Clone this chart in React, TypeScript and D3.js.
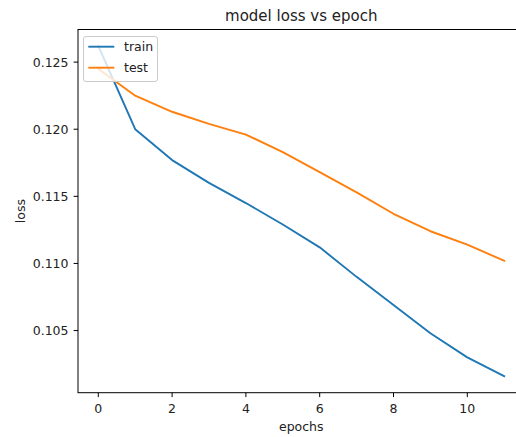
import { useEffect, useRef } from "react";
import * as d3 from "d3";

// data
const epochs = [0, 1, 2, 3, 4, 5, 6, 7, 8, 9, 10, 11];
const trainLoss = [0.1262, 0.12, 0.1177, 0.116, 0.1145, 0.1129, 0.1112, 0.109, 0.1069, 0.1048, 0.103, 0.1016];
const testLoss = [0.1245, 0.1225, 0.1213, 0.1204, 0.1196, 0.1183, 0.1168, 0.1153, 0.1137, 0.1124, 0.1114, 0.1102];
const xTicks = [0, 2, 4, 6, 8, 10];
const yTicks = [0.105, 0.11, 0.115, 0.12, 0.125];
const seriesNames = ["train", "test"];
const seriesColors = ["#1f77b4", "#ff7f0e"];

const W = 516;
const H = 437;
const FONT = "DejaVu Sans, sans-serif";

function App() {
	const ref = useRef<SVGSVGElement | null>(null);

	useEffect(() => {
		const svg = d3.select(ref.current);
		svg.selectAll("*").remove();

		// axes box (right spine falls outside the picture)
		const left = 78;
		const right = 524.5;
		const top = 29.5;
		const bottom = 392.7;

		const series = [trainLoss, testLoss];
		const all = trainLoss.concat(testLoss);
		const [yMin, yMax] = d3.extent(all) as [number, number];
		const yPad = (yMax - yMin) * 0.05;
		const [xMin, xMax] = d3.extent(epochs) as [number, number];
		const xPad = (xMax - xMin) * 0.05;

		const x = d3.scaleLinear().domain([xMin - xPad, xMax + xPad]).range([left, right]);
		const y = d3.scaleLinear().domain([yMin - yPad, yMax + yPad]).range([bottom, top]);

		svg.append("rect").attr("width", W).attr("height", H).attr("fill", "#fff");

		// lines
		const line = d3
			.line<number>()
			.x((_, i) => x(epochs[i]))
			.y((d) => y(d));
		series.forEach((s, k) => {
			svg
				.append("path")
				.datum(s)
				.attr("d", line)
				.attr("fill", "none")
				.attr("stroke", seriesColors[k])
				.attr("stroke-width", 1.9)
				.attr("stroke-linejoin", "round")
				.attr("stroke-linecap", "square");
		});

		// spines
		svg
			.append("rect")
			.attr("x", left)
			.attr("y", top)
			.attr("width", right - left)
			.attr("height", bottom - top)
			.attr("fill", "none")
			.attr("stroke", "#000")
			.attr("stroke-width", 1);

		// x ticks
		const gx = svg.append("g");
		xTicks.forEach((t) => {
			gx.append("line")
				.attr("x1", x(t))
				.attr("x2", x(t))
				.attr("y1", bottom)
				.attr("y2", bottom + 4.4)
				.attr("stroke", "#000")
				.attr("stroke-width", 1);
			gx.append("text")
				.attr("x", x(t))
				.attr("y", 413)
				.attr("text-anchor", "middle")
				.attr("font-family", FONT)
				.attr("font-size", 12.5)
				.attr("fill", "#222")
				.text(String(t));
		});

		// y ticks
		const gy = svg.append("g");
		yTicks.forEach((t) => {
			gy.append("line")
				.attr("x1", left - 4.4)
				.attr("x2", left)
				.attr("y1", y(t))
				.attr("y2", y(t))
				.attr("stroke", "#000")
				.attr("stroke-width", 1);
			gy.append("text")
				.attr("x", left - 9.5)
				.attr("y", y(t) + 4.5)
				.attr("text-anchor", "end")
				.attr("font-family", FONT)
				.attr("font-size", 12.5)
				.attr("fill", "#222")
				.text(d3.format(".3f")(t));
		});

		// labels + title
		svg.append("text")
			.attr("x", (left + right) / 2)
			.attr("y", 431)
			.attr("text-anchor", "middle")
			.attr("font-family", FONT)
			.attr("font-size", 12.5)
			.attr("fill", "#222")
			.text("epochs");
		svg.append("text")
			.attr("transform", `translate(25,${(top + bottom) / 2}) rotate(-90)`)
			.attr("text-anchor", "middle")
			.attr("font-family", FONT)
			.attr("font-size", 12.5)
			.attr("fill", "#222")
			.text("loss");
		svg.append("text")
			.attr("x", (left + right) / 2)
			.attr("y", 20.5)
			.attr("text-anchor", "middle")
			.attr("font-family", FONT)
			.attr("font-size", 15)
			.attr("fill", "#222")
			.text("model loss vs epoch");

		// legend
		const lg = svg.append("g");
		lg.append("rect")
			.attr("x", 83.5)
			.attr("y", 36.5)
			.attr("width", 74)
			.attr("height", 45)
			.attr("rx", 2.5)
			.attr("fill", "#fff")
			.attr("fill-opacity", 0.8)
			.attr("stroke", "#ccc")
			.attr("stroke-width", 1);
		seriesNames.forEach((name, k) => {
			const ly = 46.7 + k * 21;
			lg.append("line")
				.attr("x1", 88.3)
				.attr("x2", 114.3)
				.attr("y1", ly)
				.attr("y2", ly)
				.attr("stroke", seriesColors[k])
				.attr("stroke-width", 1.9);
			lg.append("text")
				.attr("x", 124)
				.attr("y", ly + 4.5)
				.attr("font-family", FONT)
				.attr("font-size", 12.5)
				.attr("fill", "#222")
				.text(name);
		});
	}, []);

	return (
		<div style={{ position: "absolute", left: 0, top: 0 }}>
			<svg ref={ref} width={W} height={H} style={{ display: "block" }} />
		</div>
	);
}

export default App;
